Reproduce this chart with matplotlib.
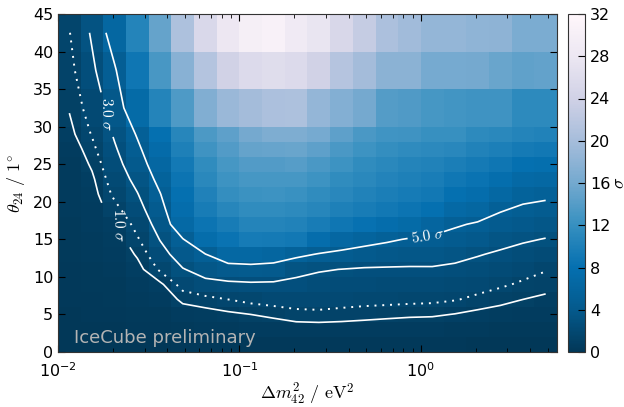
import matplotlib.pyplot as plt
import numpy as np

plt.rcParams["mathtext.fontset"] = "cm"

# bin edges of the scan grid
dm2_edges = [0.0100, 0.01334, 0.01778, 0.02371, 0.03162, 0.04217, 0.05623, 0.07499,
             0.1000, 0.1334, 0.1778, 0.2371, 0.3162, 0.4217, 0.5623, 0.7499,
             1.000, 1.334, 1.778, 2.371, 3.162, 4.217, 5.623]
theta_edges = [0, 2, 4, 6, 8, 10, 12, 14, 16, 18, 20, 22, 24, 26, 28, 30, 35, 40, 45]

# exclusion significance, one list per dm2 bin, theta bins from low to high
sigma_by_dm2 = [
    [0.05, 0.08, 0.12, 0.16, 0.2, 0.24, 0.28, 0.32, 0.35, 0.38, 0.4, 0.42, 0.45, 0.55, 0.8, 1.05, 1.35, 1.6],
    [0.05, 0.1, 0.15, 0.2, 0.26, 0.32, 0.38, 0.45, 0.53, 0.62, 0.72, 0.87, 1.11, 1.41, 1.7, 2.11, 2.7, 3.2],
    [0.06, 0.12, 0.18, 0.25, 0.32, 0.4, 0.5, 0.65, 0.85, 1.37, 1.84, 2.17, 2.5, 2.83, 3.19, 3.83, 4.75, 6.3],
    [0.08, 0.15, 0.25, 0.4, 0.55, 0.75, 1.09, 1.53, 1.99, 2.46, 2.93, 3.47, 4.03, 4.58, 5.2, 7.0, 8.8, 10.5],
    [0.1, 0.2, 0.35, 0.55, 0.85, 1.77, 2.42, 3.06, 3.68, 4.29, 4.91, 5.66, 6.44, 7.22, 8.0, 10.5, 13.2, 15.0],
    [0.15, 0.35, 0.6, 1.16, 2.0, 2.91, 3.88, 4.9, 6.8, 7.6, 8.1, 8.6, 9.2, 10.0, 10.8, 13.5, 17.5, 20.7],
    [0.15, 0.4, 0.7, 1.38, 2.5, 3.73, 4.95, 7.4, 8.6, 9.5, 10.2, 11.0, 11.6, 12.5, 13.4, 17.0, 21.3, 25.3],
    [0.15, 0.45, 0.85, 1.64, 2.73, 4.0, 6.5, 8.4, 9.6, 10.8, 11.8, 12.4, 13.0, 13.8, 14.6, 19.0, 24.0, 28.0],
    [0.15, 0.5, 1.0, 1.87, 2.8, 4.2, 6.6, 9.4, 10.6, 11.6, 12.3, 13.0, 13.8, 15.0, 16.0, 19.8, 25.7, 29.9],
    [0.15, 0.55, 1.15, 2.02, 2.77, 4.1, 6.2, 9.3, 10.6, 11.6, 12.4, 13.0, 13.8, 15.2, 16.8, 20.5, 26.1, 30.5],
    [0.15, 0.6, 1.38, 2.1, 2.75, 3.3, 5.5, 9.0, 10.3, 11.3, 12.2, 13.0, 14.0, 15.3, 16.8, 20.7, 25.7, 28.8],
    [0.15, 0.6, 1.45, 2.07, 2.57, 3.1, 4.84, 7.6, 9.6, 10.8, 11.6, 12.4, 13.3, 14.6, 16.2, 18.6, 24.0, 27.5],
    [0.15, 0.6, 1.36, 2.0, 2.49, 2.98, 4.46, 6.4, 8.8, 10.0, 10.9, 11.6, 12.4, 13.3, 14.5, 17.2, 21.4, 25.0],
    [0.15, 0.55, 1.28, 1.93, 2.39, 2.86, 4.08, 5.8, 8.2, 9.5, 10.3, 11.0, 11.6, 12.4, 13.3, 16.0, 19.8, 22.9],
    [0.15, 0.5, 1.2, 1.9, 2.37, 2.84, 3.87, 5.3, 7.6, 9.0, 9.8, 10.4, 11.0, 11.8, 12.7, 13.9, 17.8, 20.5],
    [0.15, 0.5, 1.12, 1.86, 2.34, 2.83, 3.72, 4.83, 7.0, 8.5, 9.4, 10.0, 10.6, 11.4, 12.5, 13.7, 17.8, 19.6],
    [0.15, 0.5, 1.09, 1.82, 2.33, 2.85, 3.65, 4.58, 6.0, 8.0, 9.0, 9.7, 10.3, 11.2, 12.1, 13.0, 16.2, 18.5],
    [0.15, 0.45, 0.97, 1.69, 2.2, 2.72, 3.4, 4.29, 5.23, 6.8, 8.0, 8.9, 9.8, 10.9, 12.0, 12.8, 16.2, 18.5],
    [0.12, 0.4, 0.8, 1.44, 2.01, 2.53, 3.08, 3.92, 4.75, 6.3, 7.5, 8.4, 9.3, 10.3, 11.3, 12.6, 16.0, 18.2],
    [0.1, 0.35, 0.7, 1.2, 1.77, 2.28, 2.79, 3.49, 4.31, 5.17, 6.6, 7.7, 8.8, 9.9, 11.0, 12.6, 15.3, 18.0],
    [0.1, 0.3, 0.6, 1.0, 1.49, 2.02, 2.56, 3.15, 3.91, 4.66, 5.66, 6.87, 8.08, 9.29, 10.5, 11.3, 14.7, 16.5],
    [0.1, 0.28, 0.55, 0.85, 1.26, 1.7, 2.32, 2.94, 3.69, 4.46, 5.37, 6.6, 7.83, 9.07, 10.3, 11.3, 14.9, 16.5],
]

solid_levels = [1.0, 3.0, 5.0]
dotted_level = 1.64
label_spots = [(0.022, 16.9), (0.0182, 31.6), (1.09, 15.8)]

xe = np.array(dm2_edges)
ye = np.array(theta_edges)
z = np.array(sigma_by_dm2).T
xc = np.sqrt(xe[:-1] * xe[1:])
yc = 0.5 * (ye[:-1] + ye[1:])

fig = plt.figure(figsize=(6.24, 4.07), dpi=100)
ax = fig.add_axes([58 / 624, 55 / 407, 499 / 624, 338 / 407])
cax = fig.add_axes([568 / 624, 55 / 407, 17 / 624, 338 / 407])

mesh = ax.pcolormesh(xe, ye, z, cmap="PuBu_r", vmin=0, vmax=32)
ax.contour(xc, yc, z, levels=[dotted_level], colors="white",
           linewidths=1.4, linestyles=[(0, (1, 3))])
cs = ax.contour(xc, yc, z, levels=solid_levels, colors="white", linewidths=1.2)
ax.clabel(cs, inline=True, fontsize=11,
          fmt=lambda v: rf"${v:.1f}\ \sigma$", manual=label_spots)

ax.set_xscale("log")
ax.set_xlim(0.01, dm2_edges[-1])
ax.set_ylim(0, 45)
ax.set_yticks(range(0, 46, 5))
ax.set_xlabel(r"$\Delta m^2_{42}\ /\ \mathrm{eV}^2$", fontsize=13, labelpad=1)
ax.set_ylabel(r"$\theta_{24}\ /\ 1^{\circ}$", fontsize=13)
ax.tick_params(which="both", direction="in", top=True, right=True, labelsize=11.5)
ax.tick_params(which="major", length=5)
ax.tick_params(which="minor", length=3)
ax.tick_params(axis="x", pad=7)
for sp in ax.spines.values():
    sp.set_color("#333333")

ax.text(0.032, 0.015, "IceCube preliminary", transform=ax.transAxes,
        color="#b4b4b4", fontsize=13, va="bottom", ha="left")

cb = fig.colorbar(mesh, cax=cax, ticks=range(0, 33, 4))
cb.set_label(r"$\sigma$", fontsize=13, labelpad=0)
cb.ax.tick_params(direction="in", labelsize=11.5, length=5)
cb.outline.set_edgecolor("#333333")

fig.savefig("out.png", dpi=100)
